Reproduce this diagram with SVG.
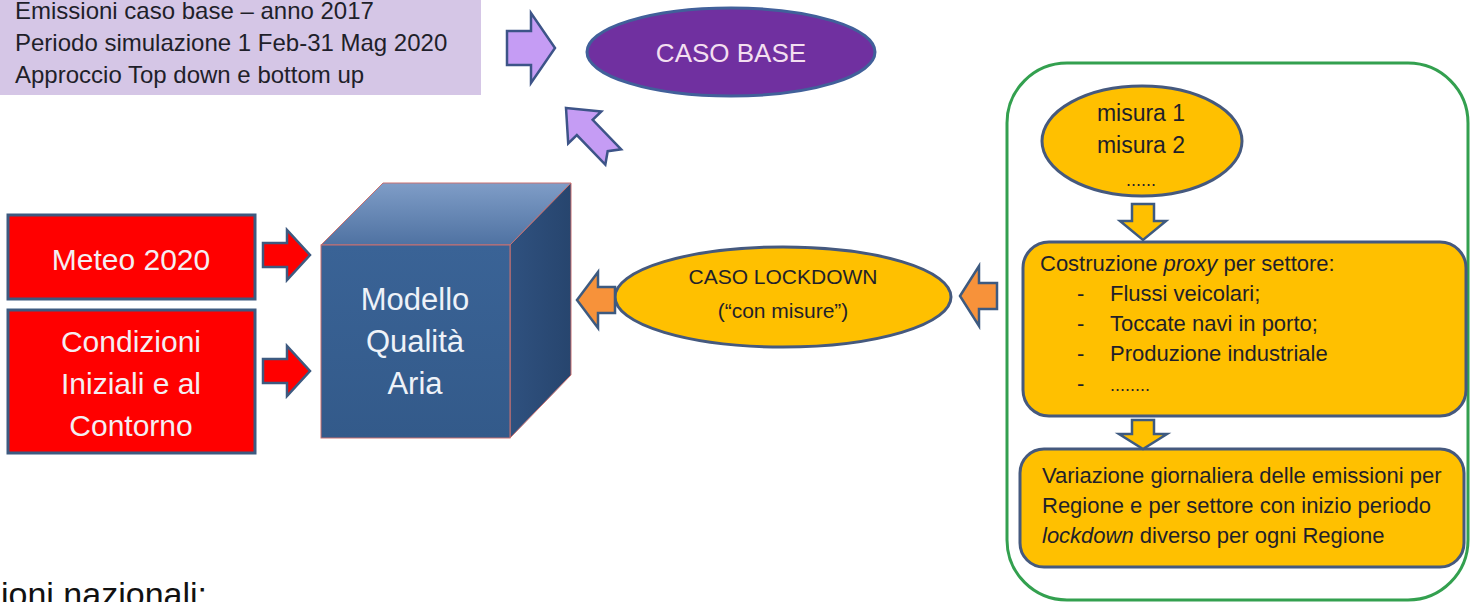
<svg xmlns="http://www.w3.org/2000/svg" width="1472" height="602" viewBox="0 0 1472 602">
  <defs>
    <linearGradient id="topFace" x1="0" y1="0" x2="0" y2="1">
      <stop offset="0" stop-color="#7f9dc7"/>
      <stop offset="1" stop-color="#4f72a2"/>
    </linearGradient>
    <linearGradient id="frontFace" x1="0" y1="0" x2="0" y2="1">
      <stop offset="0" stop-color="#3a6396"/>
      <stop offset="1" stop-color="#335a8a"/>
    </linearGradient>
    <linearGradient id="sideFace" x1="0" y1="0" x2="1" y2="0">
      <stop offset="0" stop-color="#2f517f"/>
      <stop offset="1" stop-color="#27456e"/>
    </linearGradient>
  </defs>
  <style>
    text { font-family: "Liberation Sans", Arial, sans-serif; }
    .dark { fill: #1f1f2a; }
    .light { fill: #f4eef2; }
    .arrowP { fill: #c59cf4; stroke: #3d5488; stroke-width: 2.5; stroke-linejoin: miter; }
    .arrowR { fill: #ff0000; stroke: #3d5a80; stroke-width: 2.5; }
    .arrowO { fill: #f7923a; stroke: #3d5a80; stroke-width: 2.5; }
    .arrowG { fill: #ffc000; stroke: #3d5a80; stroke-width: 2.5; }
    .gold { fill: #ffc000; stroke: #45597e; stroke-width: 3; }
    .redbox { fill: #ff0000; stroke: #3d5a80; stroke-width: 3; }
  </style>

  <!-- Emissions info box -->
  <g id="info">
    <rect x="0" y="0" width="481" height="95" fill="#d5c6e6"/>
    <text class="dark" x="15" y="19" font-size="24">Emissioni caso base – anno 2017</text>
    <text class="dark" x="15" y="51" font-size="24">Periodo simulazione 1 Feb-31 Mag 2020</text>
    <text class="dark" x="15" y="83" font-size="24">Approccio Top down e bottom up</text>
  </g>

  <!-- CASO BASE -->
  <g id="caso-base">
    <ellipse cx="731" cy="52" rx="144" ry="44" fill="#7030a0" stroke="#41609a" stroke-width="3"/>
    <text x="731" y="62" font-size="26" text-anchor="middle" fill="#f3dff0">CASO BASE</text>
  </g>

  <!-- Meteo 2020 -->
  <g id="meteo">
    <rect class="redbox" x="8" y="215" width="247" height="84"/>
    <text class="light" x="131" y="270" font-size="30" text-anchor="middle">Meteo 2020</text>
  </g>

  <!-- Condizioni -->
  <g id="condizioni">
    <rect class="redbox" x="8" y="310" width="247" height="143"/>
    <text class="light" x="131" y="352" font-size="30" text-anchor="middle">Condizioni</text>
    <text class="light" x="131" y="394" font-size="30" text-anchor="middle">Iniziali e al</text>
    <text class="light" x="131" y="436" font-size="30" text-anchor="middle">Contorno</text>
  </g>

  <!-- Modello Qualità Aria cube -->
  <g id="modello">
    <polygon points="321,245 383,183 571,183 510,245" fill="url(#topFace)" stroke="#c97070" stroke-width="1"/>
    <polygon points="510,245 571,183 571,375 510,438" fill="url(#sideFace)" stroke="#c97070" stroke-width="1"/>
    <rect x="321" y="245" width="189" height="193" fill="url(#frontFace)" stroke="#c97070" stroke-width="1"/>
    <text x="415" y="310" font-size="31" text-anchor="middle" fill="#eef2f8">Modello</text>
    <text x="415" y="352" font-size="31" text-anchor="middle" fill="#eef2f8">Qualità</text>
    <text x="415" y="394" font-size="31" text-anchor="middle" fill="#eef2f8">Aria</text>
  </g>

  <!-- CASO LOCKDOWN -->
  <g id="caso-lockdown">
    <ellipse class="gold" cx="783" cy="297" rx="168" ry="50"/>
    <text class="dark" x="783" y="284" font-size="21" text-anchor="middle">CASO LOCKDOWN</text>
    <text class="dark" x="783" y="318" font-size="21" text-anchor="middle">(“con misure”)</text>
  </g>

  <!-- Misure container -->
  <g id="misure-container">
    <rect x="1007" y="63" width="461" height="537" rx="60" ry="60" fill="none" stroke="#33a04f" stroke-width="3"/>
  </g>

  <g id="misure">
    <ellipse class="gold" cx="1142" cy="141" rx="100" ry="55"/>
    <text class="dark" x="1141" y="121" font-size="23" text-anchor="middle">misura 1</text>
    <text class="dark" x="1141" y="153" font-size="23" text-anchor="middle">misura 2</text>
    <text class="dark" x="1141" y="186" font-size="18" text-anchor="middle">......</text>
  </g>

  <g id="proxy">
    <rect class="gold" x="1023" y="242" width="443" height="174" rx="26" ry="26"/>
    <text class="dark" x="1040" y="271" font-size="22">Costruzione <tspan font-style="italic">proxy</tspan> per settore:</text>
    <text class="dark" x="1077" y="301" font-size="22">-</text>
    <text class="dark" x="1110" y="301" font-size="22">Flussi veicolari;</text>
    <text class="dark" x="1077" y="331" font-size="22">-</text>
    <text class="dark" x="1110" y="331" font-size="22">Toccate navi in porto;</text>
    <text class="dark" x="1077" y="361" font-size="22">-</text>
    <text class="dark" x="1110" y="361" font-size="22">Produzione industriale</text>
    <text class="dark" x="1077" y="391" font-size="22">-</text>
    <text class="dark" x="1110" y="391" font-size="18">........</text>
  </g>

  <g id="variazione">
    <rect class="gold" x="1020" y="449" width="444" height="118" rx="24" ry="24"/>
    <text class="dark" x="1042" y="483" font-size="22">Variazione giornaliera delle emissioni per</text>
    <text class="dark" x="1042" y="513" font-size="22">Regione e per settore con inizio periodo</text>
    <text class="dark" x="1042" y="543" font-size="22"><tspan font-style="italic">lockdown</tspan> diverso per ogni Regione</text>
  </g>

  <!-- Connectors -->
  <g id="connectors">
    <polygon class="arrowP" points="507,31 531,31 531,13 555,48 531,83 531,65 507,65"/>
    <polygon class="arrowP" transform="translate(566,108) rotate(46)" points="0,0 27,-23 27,-11 68,-11 60,0 68,11 27,11 27,23"/>
    <polygon class="arrowR" points="263,243 287,243 287,230 310,255 287,280 287,267 263,267"/>
    <polygon class="arrowR" points="263,359 287,359 287,346 310,371 287,396 287,383 263,383"/>
    <polygon class="arrowO" points="577,300 598,272 598,287 615,287 615,313 598,313 598,328"/>
    <polygon class="arrowO" points="960,296 979,266 979,283 997,283 997,309 979,309 979,326"/>
    <polygon class="arrowG" points="1132,204 1154,204 1154,221 1166,221 1143,240 1120,221 1132,221"/>
    <polygon class="arrowG" points="1132,420 1154,420 1154,434 1167,434 1143,449 1119,434 1132,434"/>
  </g>

  <!-- Cropped caption at bottom -->
  <text x="1" y="606" font-size="34" fill="#111">ioni nazionali:</text>
</svg>
